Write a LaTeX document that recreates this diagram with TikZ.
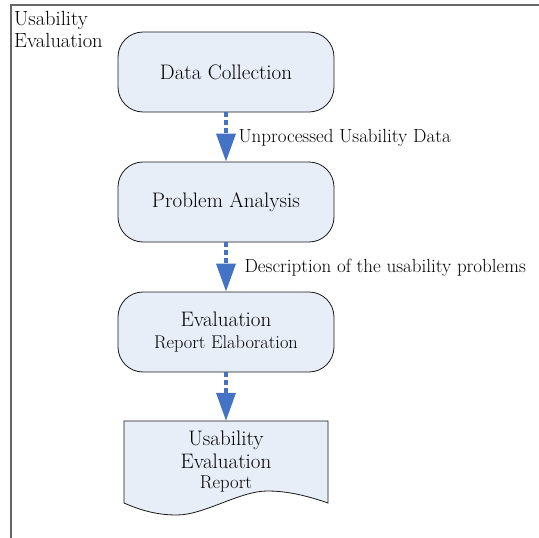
\documentclass[tikz,border=0pt]{standalone}
\usepackage{fontspec}
\usetikzlibrary{shapes}
\usetikzlibrary{positioning}
\usetikzlibrary{arrows.meta}
\usetikzlibrary{calc}
\definecolor{boxfill}{RGB}{232,238,248}
\definecolor{flowblue}{RGB}{68,114,196}
\tikzset{
    procnode/.style = {rectangle, rounded corners=25pt, draw=black!90, line width=0.8pt, fill=boxfill, align=center, minimum width=216pt, minimum height=80pt, font=\fontsize{21}{24}\selectfont, text=black},
    docnode/.style = {rectangle, align=center, minimum width=204pt, minimum height=82pt, font=\fontsize{21}{23}\selectfont, text=black},
    edgeflow/.style = {-{Triangle[width=19pt,length=28pt]}, line width=3.5pt, flowblue, dash pattern=on 5pt off 3pt},
    edgelabel/.style = {font=\fontsize{19}{22}\selectfont, text=black, anchor=west},
    framel/.style = {draw=black!60, line width=1.2pt}
}
\begin{document}
\begin{tikzpicture}[x=1pt,y=-1pt]
  \useasboundingbox (0,0) rectangle (539,538);

  % frame
  \draw[framel] (11,538) -- (11,5) -- (539,5);
  \node[anchor=north west, align=left, inner sep=0pt, font=\fontsize{20.5}{22}\selectfont] (title) at (14,11) {Usability\\Evaluation};

  \node[procnode] (collect) at (226,72) {Data Collection};
  \node[procnode] (analysis) at (226,202) {Problem Analysis};
  \node[procnode] (elab) at (226,332) {Evaluation\\[-2pt]{\fontsize{18.4}{20}\selectfont Report Elaboration}};

  % document outline
  \coordinate (rnw) at (124,421);
  \coordinate (rne) at (328,421);
  \draw[black!90, line width=0.8pt, fill=boxfill] (rnw) -- (rne) -- ($(rne)+(0,82)$)
    .. controls ($(rne)+(-26,73)$) and ($(rne)+(-44,70)$) .. ($(rne)+(-61,70)$)
    .. controls ($(rne)+(-88,70)$) and ($(rnw)+(80,94)$) .. ($(rnw)+(53,94)$)
    .. controls ($(rnw)+(32,94)$) and ($(rnw)+(16,89)$) .. ($(rnw)+(0,82)$) -- cycle;
  \node[docnode] (report) at (226,462) {Usability\\Evaluation\\[-3pt]{\fontsize{18.7}{20}\selectfont Report}};

  \draw[edgeflow] (collect.south) -- (analysis.north);
  \draw[edgeflow] (analysis.south) -- (elab.north);
  \draw[edgeflow] (elab.south) -- (report.north);

  \node[edgelabel] (lbla) at (235,138) {Unprocessed Usability Data};
  \node[edgelabel] (lblb) at (241,268) {Description of the usability problems};
\end{tikzpicture}
\end{document}
